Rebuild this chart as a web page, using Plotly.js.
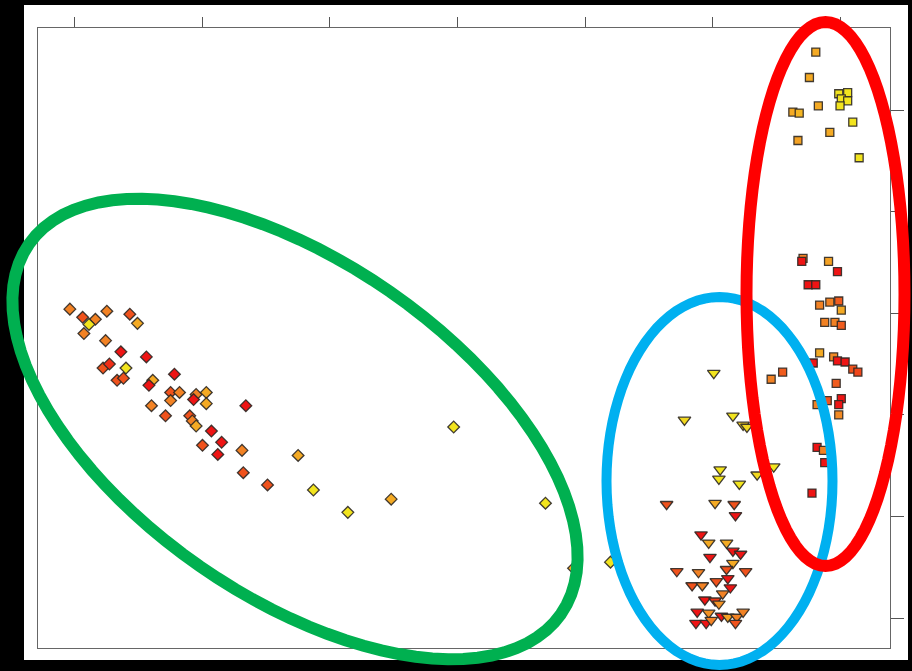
<!DOCTYPE html>
<html><head><meta charset="utf-8">
<script src="https://cdn.plot.ly/plotly-3.0.1.min.js"></script>
<style>html,body{margin:0;padding:0;background:#000;}#chart{width:912px;height:671px;}</style>
</head><body><div id="chart"></div>
<script>
// Group A (diamonds)
const diamondX = [-0.4,0.6,1.6,1.1,2.5,4.3,4.9,0.7,2.4,3.6,5.6,2.2,2.7,4.0,3.3,3.8,6.1,5.8,7.8,7.5,8.2,7.5,9.5,10.3,9.3,10.3,6.0,7.1,9.0,9.2,9.5,10.7,11.5,10.0,11.2,13.1,13.4,17.5,13.2,15.1,18.7,21.4,24.8,29.7,36.9,39.1,42.0];
const diamondY = [30.4,29.6,29.4,28.9,30.2,29.9,29.0,28.0,27.3,26.2,25.7,24.6,25.0,24.6,23.4,23.6,23.4,22.9,24.0,22.2,22.2,21.4,22.0,22.2,21.5,21.1,20.9,19.9,19.9,19.4,18.9,18.4,17.3,17.0,16.1,16.5,20.9,16.0,14.3,13.1,12.6,10.4,11.7,18.8,11.3,4.9,5.5];
const diamondC = [0.5,0.25,0.5,1,0.5,0.25,0.75,0.5,0.5,0,0,0.25,0.1,1,0.25,0.25,0.75,0,0,0.25,0.5,0.5,0.5,0.75,0,0.75,0.5,0.25,0.25,0.5,0.75,0,0,0.25,0,0.5,0,0.75,0.25,0.25,1,1,0.75,1,1,0.75,1];

// Group B (triangles)
const triX = [50.1,47.8,51.6,52.4,52.7,50.6,50.5,52.1,53.5,54.8,46.4,50.2,51.7,51.8,49.1,49.7,51.1,51.6,52.2,49.8,51.6,47.2,48.9,51.1,52.6,51.2,50.3,48.4,49.2,51.4,50.8,49.4,50.2,50.5,48.8,49.7,50.7,51.2,51.9,52.4,48.7,49.5,51.8,49.9];
const triY = [24.1,19.5,19.9,19.0,18.8,14.6,13.7,13.2,14.1,14.9,11.2,11.3,11.2,10.1,8.2,7.4,7.4,6.6,6.3,6.0,5.4,4.6,4.5,4.8,4.6,3.9,3.6,3.2,3.2,3.0,2.4,1.8,1.7,1.4,0.6,0.5,0.2,0.1,0.1,0.6,-0.5,-0.5,-0.5,-0.2];
const triC = [1,0.95,1,0.9,0.95,1,1,1,0.95,1,0.25,0.75,0.25,0,0,0.75,0.75,0,0,0,0.75,0.25,0.5,0.25,0.25,0,0.25,0.25,0.5,0,0.5,0,0.15,0.6,0,0.6,0,0.7,0.5,0.5,0,0,0.25,0.5];

// Group C (squares)
const sqX = [58.1,57.6,59.9,60.6,60.1,60.6,60.0,58.3,56.3,56.8,61.0,59.2,56.7,61.5,57.1,57.0,59.1,59.8,57.5,58.1,58.4,59.2,59.9,60.1,58.8,59.6,60.1,58.4,57.9,59.5,59.8,60.4,61.0,61.4,55.5,54.6,59.7,58.2,59.0,60.1,59.9,59.9,58.2,58.7,58.8,57.8];
const sqY = [55.7,53.2,51.6,51.7,51.1,50.9,50.4,50.4,49.8,49.7,48.8,47.8,47.0,45.3,35.4,35.1,35.1,34.1,32.8,32.8,30.8,31.1,31.2,30.3,29.1,29.1,28.8,26.1,25.1,25.7,25.3,25.2,24.5,24.2,24.2,23.5,23.1,21.0,21.4,21.6,21.0,20.0,16.8,16.5,15.3,12.3];
const sqC = [0.75,0.75,1,1,1,1,1,0.75,0.75,0.8,1,0.75,0.7,1,0.5,0,0.7,0,0,0,0.5,0.5,0.3,0.75,0.5,0.5,0.3,0.75,0,0.55,0,0,0.25,0.2,0.3,0.5,0.3,0.5,0.25,0,0,0.55,0,0.5,0,0];

const xTicks = [0,10,20,30,40,50,60];
const yTicks = [0,10,20,30,40,50];

const cscale = [[0,'#ee1414'],[0.25,'#f0521c'],[0.5,'#f28224'],[0.75,'#f4aa24'],[1,'#f2e41e']];
const outline = {color:'rgba(45,40,35,0.9)', width:1.3};

function mk(x,y,c,symbol,size){
  return {type:'scatter',mode:'markers',x:x,y:y,hoverinfo:'skip',showlegend:false,
    marker:{symbol:symbol,size:size,color:c,colorscale:cscale,cmin:0,cmax:1,showscale:false,line:outline}};
}

const W=912,H=671,L=38,R=22,T=28,B=23;
const pw=W-L-R, ph=H-T-B;
function ellipsePath(cx,cy,a,b,thetaDeg){
  const th=thetaDeg*Math.PI/180; let d='';
  for(let i=0;i<=96;i++){
    const t=2*Math.PI*i/96;
    const px=cx+a*Math.cos(t)*Math.cos(th)-b*Math.sin(t)*Math.sin(th);
    const py=cy+a*Math.cos(t)*Math.sin(th)+b*Math.sin(t)*Math.cos(th);
    const u=(px-L)/pw, v=(H-B-py)/ph;
    d+=(i===0?'M':'L')+u.toFixed(5)+','+v.toFixed(5);
  }
  return d+'Z';
}
function pxRect(x0,y0,x1,y1){return {x0:(x0-L)/pw,x1:(x1-L)/pw,y0:(H-B-y1)/ph,y1:(H-B-y0)/ph};}

const bg = Object.assign({type:'rect',xref:'paper',yref:'paper',layer:'below',fillcolor:'#ffffff',line:{width:0}},pxRect(24,5,908,660));

const shapes=[bg,
  {type:'path',xref:'paper',yref:'paper',layer:'above',path:ellipsePath(295,429,324,167,34.8),line:{color:'#00b050',width:12}},
  {type:'path',xref:'paper',yref:'paper',layer:'above',path:ellipsePath(719.5,481,113,184,0),line:{color:'#00b0f0',width:10}},
  {type:'path',xref:'paper',yref:'paper',layer:'above',path:ellipsePath(825.5,294,79,272,0),line:{color:'#ff0000',width:12}}
];

const layout={width:W,height:H,autosize:false,margin:{l:L,r:R,t:T,b:B,pad:0},
  paper_bgcolor:'#000000',plot_bgcolor:'rgba(0,0,0,0)',showlegend:false,
  xaxis:{side:'top',range:[-2.90,63.92],tickvals:xTicks,showticklabels:false,ticks:'outside',ticklen:10,tickcolor:'#555',tickwidth:1,
    showgrid:false,zeroline:false,showline:true,linecolor:'#666',linewidth:1,mirror:true},
  yaxis:{side:'right',range:[-2.95,58.07],tickvals:yTicks,showticklabels:false,ticks:'outside',ticklen:13,tickcolor:'#555',tickwidth:1,
    showgrid:false,zeroline:false,showline:true,linecolor:'#666',linewidth:1,mirror:true},
  shapes:shapes};

Plotly.newPlot('chart',[mk(diamondX,diamondY,diamondC,'diamond',9),mk(triX,triY,triC,'triangle-down',11),mk(sqX,sqY,sqC,'square',8)],layout,{staticPlot:true,displayModeBar:false});
</script></body></html>
